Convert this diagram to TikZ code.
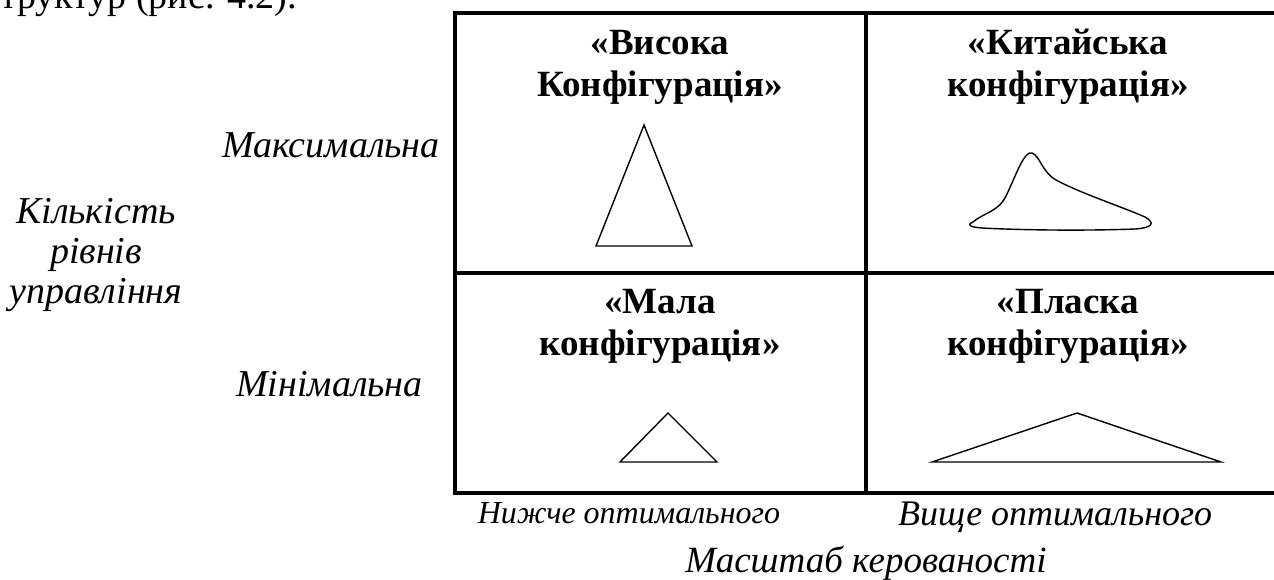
\documentclass[tikz,border=0pt]{standalone}
\usepackage{fontspec}
\setmainfont{Liberation Serif}
\begin{document}
\begin{tikzpicture}[x=1pt, y=-1pt,
  config/.style={align=center, font=\fontsize{37}{42}\selectfont\bfseries},
  axis/.style={align=center, font=\fontsize{38}{40}\selectfont\itshape},
  gridline/.style={line width=4pt},
  figline/.style={line width=1.4pt, line join=miter}]
\useasboundingbox (0,0) rectangle (1274,579);
% line of the page text above the figure, cut at the top
\node [anchor=base west, inner sep=0pt, font=\fontsize{38}{40}\selectfont] (prev) at (-17,8) {структур (рис. 4.2).};

% the matrix
\draw [gridline] (455,13) rectangle (1277,493);
\draw [gridline] (866,13) -- (866,493);
\draw [gridline] (455,273) -- (1277,273);

\node [config] (VK) at (660,67) {«Висока\\Конфігурація»};
\node [config] (KK) at (1068,67) {«Китайська\\конфігурація»};
\node [config] (MK) at (660,326) {«Мала\\конфігурація»};
\node [config] (PK) at (1068,326) {«Пласка\\конфігурація»};

% shapes of the structures
\draw [figline] (644,125) -- (692,246) -- (596,246) -- cycle;
\draw [figline] (973,222) .. controls (985,212) and (998,212) .. (1006,196)
  .. controls (1015,178) and (1024,150) .. (1032,153)
  .. controls (1040,156) and (1042,172) .. (1056,180)
  .. controls (1080,193) and (1125,208) .. (1145,217)
  .. controls (1156,223) and (1152,228) .. (1135,229)
  .. controls (1080,231) and (1020,230) .. (982,228)
  .. controls (970,227) and (966,225) .. (973,222);
\draw [figline] (668,413) -- (717,462) -- (620,462) -- cycle;
\draw [figline] (1077,413) -- (1221,462) -- (932,462) -- cycle;

% axis labels
\node [axis, anchor=base east, inner sep=0pt] (Max) at (440,157) {Максимальна};
\node [axis, anchor=base east, inner sep=0pt] (Min) at (423,396) {Мінімальна};
\node [axis, anchor=base] (N) at (96,303) {Кількість\\рівнів\\управління};
\node [axis, anchor=base, font=\fontsize{32}{38}\selectfont\itshape] (Low) at (629,523) {Нижче оптимального};
\node [axis, anchor=base west, inner sep=0pt, font=\fontsize{36}{40}\selectfont\itshape] (High) at (898,525) {Вище оптимального};
\node [axis, anchor=base, font=\fontsize{37}{40}\selectfont\itshape] (Scale) at (866,572) {Масштаб керованості};
\end{tikzpicture}
\end{document}
